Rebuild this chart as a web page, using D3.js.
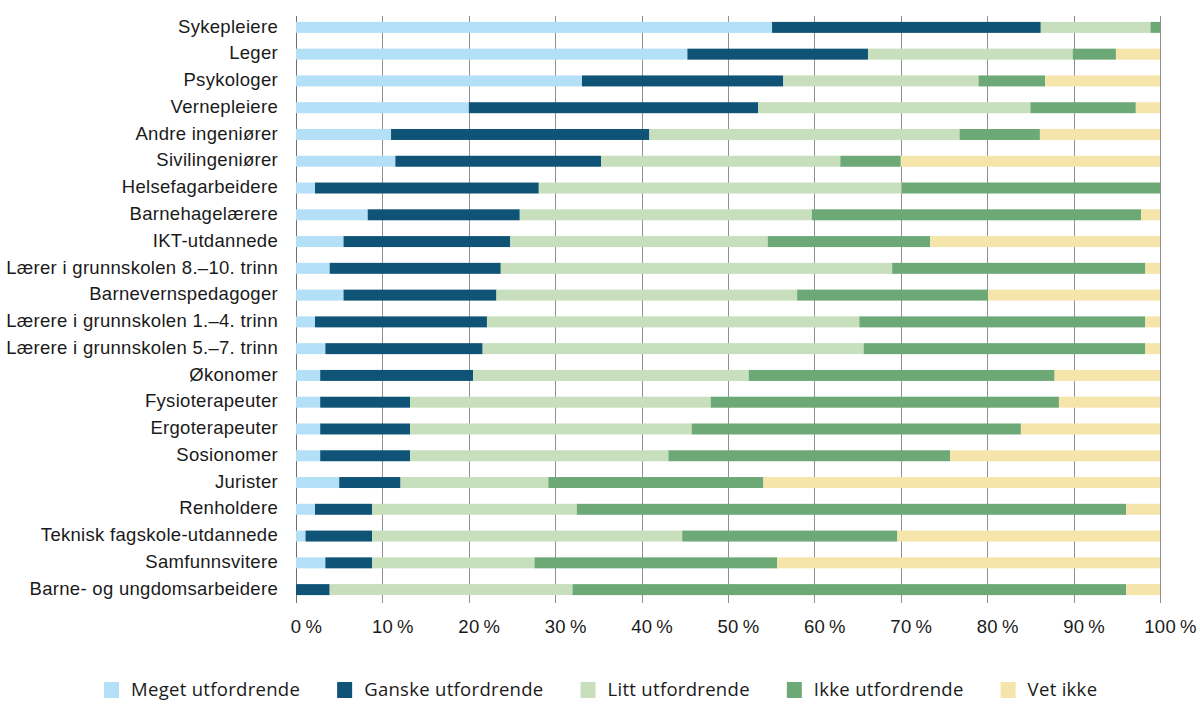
<!DOCTYPE html>
<html>
<head>
<meta charset="utf-8">
<script src="https://cdn.jsdelivr.net/npm/d3@7"></script>
<style>
  body { margin: 0; background: #fff; }
  svg { display: block; font-family: 'Open Sans', sans-serif; }
  .grid line { stroke: #8f8f8f; stroke-width: 1; }
  .label { fill: #1a1a1a; font-size: 18.5px; letter-spacing: 0.3px; }
</style>
</head>
<body>
<svg id="chart" width="1200" height="712"></svg>
<script>
// categories, top to bottom
const categories = [
    'Sykepleiere', 'Leger', 'Psykologer', 'Vernepleiere', 'Andre ingeniører',
    'Sivilingeniører', 'Helsefagarbeidere', 'Barnehagelærere', 'IKT-utdannede',
    'Lærer i grunnskolen 8.–10. trinn', 'Barnevernspedagoger',
    'Lærere i grunnskolen 1.–4. trinn', 'Lærere i grunnskolen 5.–7. trinn',
    'Økonomer', 'Fysioterapeuter', 'Ergoterapeuter', 'Sosionomer', 'Jurister',
    'Renholdere', 'Teknisk fagskole-utdannede', 'Samfunnsvitere',
    'Barne- og ungdomsarbeidere'
];

// share of answers (%), same order as categories
const meget = [55.1, 45.3, 33.1, 20.0, 11.0, 11.5, 2.2, 8.3, 5.5, 3.9, 5.5, 2.2, 3.4, 2.8, 2.8, 2.8, 2.8, 5.0, 2.2, 1.1, 3.4, 0];
const ganske = [31.1, 20.9, 23.3, 33.5, 29.9, 23.8, 25.9, 17.6, 19.3, 19.8, 17.7, 19.9, 18.2, 17.7, 10.4, 10.4, 10.4, 7.1, 6.6, 7.7, 5.4, 3.9];
const litt = [12.7, 23.7, 22.6, 31.5, 35.9, 27.7, 42.0, 33.8, 29.8, 45.3, 34.8, 43.1, 44.1, 31.9, 34.8, 32.6, 29.9, 17.1, 23.7, 35.9, 18.8, 28.1];
const ikke = [1.1, 5.0, 7.7, 12.2, 9.3, 7.0, 29.9, 38.1, 18.8, 29.3, 22.1, 33.1, 32.6, 35.4, 40.3, 38.1, 32.6, 24.9, 63.6, 24.9, 28.1, 64.1];
const vetIkke = [0, 5.1, 13.3, 2.8, 13.9, 30.0, 0, 2.2, 26.6, 1.7, 19.9, 1.7, 1.7, 12.2, 11.7, 16.1, 24.3, 45.9, 3.9, 30.4, 44.3, 3.9];

const seriesNames = ['Meget utfordrende', 'Ganske utfordrende', 'Litt utfordrende', 'Ikke utfordrende', 'Vet ikke'];
const seriesColors = ['#b3e0f6', '#0f5476', '#c7dfbd', '#6da877', '#f5e5aa'];
const xTickValues = [0, 10, 20, 30, 40, 50, 60, 70, 80, 90, 100];

const svg = d3.select('#chart');

// geometry
const plotLeft = 296;
const plotRight = 1160;
const plotTop = 14;
const plotBottom = 603;

// build table for d3.stack
const seriesValues = [meget, ganske, litt, ikke, vetIkke];
const table = categories.map((c, i) => {
    const row = { category: c };
    seriesNames.forEach((s, j) => { row[s] = seriesValues[j][i]; });
    return row;
});
const stacked = d3.stack().keys(seriesNames)(table);

// scales
const xScale = d3.scaleLinear()
        .domain([0, 100])
        .range([plotLeft, plotRight]);
const yScale = d3.scaleBand()
        .domain(categories)
        .range([plotTop, plotBottom])
        .paddingInner(0.59)
        .paddingOuter(0.295);

// vertical grid lines
svg.append('g')
        .attr('class', 'grid')
        .selectAll('line')
        .data(xTickValues)
        .enter()
        .append('line')
        .attr('x1', d => Math.round(xScale(d)) + 0.5)
        .attr('x2', d => Math.round(xScale(d)) + 0.5)
        .attr('y1', 16)
        .attr('y2', plotBottom)
        .style('stroke', d => d === 0 ? '#6f6f6f' : null);

// bars
svg.append('g')
        .selectAll('g')
        .data(stacked)
        .enter()
        .append('g')
        .attr('fill', (d, i) => seriesColors[i])
        .selectAll('rect')
        .data(d => d)
        .enter()
        .append('rect')
        .attr('x', d => xScale(d[0]))
        .attr('y', d => yScale(d.data.category))
        .attr('width', d => xScale(d[1]) - xScale(d[0]))
        .attr('height', yScale.bandwidth());

// x axis labels
const xAxis = d3.axisBottom(xScale)
        .tickValues(xTickValues)
        .tickSize(0)
        .tickPadding(0)
        .tickFormat(d => d + '\u2009%');
const xAxisG = svg.append('g')
        .attr('transform', `translate(10, ${plotBottom + 17})`)
        .call(xAxis);
xAxisG.select('.domain').remove();
xAxisG.selectAll('text')
        .attr('class', 'label')
        .attr('font-family', null)
        .attr('font-size', null);

// category labels
const yAxis = d3.axisLeft(yScale)
        .tickSize(0)
        .tickPadding(18);
const yAxisG = svg.append('g')
        .attr('transform', `translate(${plotLeft}, 0)`)
        .call(yAxis);
yAxisG.select('.domain').remove();
yAxisG.selectAll('text')
        .attr('class', 'label')
        .attr('font-family', null)
        .attr('font-size', null)
        .attr('dy', '0.28em');

// legend
const legend = svg.append('g')
        .attr('transform', 'translate(104, 682)');
let lx = 0;
seriesNames.forEach((name, i) => {
    const item = legend.append('g').attr('transform', `translate(${lx}, 0)`);
    item.append('rect')
            .attr('width', 15)
            .attr('height', 16)
            .attr('fill', seriesColors[i]);
    const t = item.append('text')
            .attr('class', 'label')
            .attr('x', 27)
            .attr('y', 14)
            .text(name);
    lx += 27 + t.node().getComputedTextLength() + 37;
});
</script>
</body>
</html>
